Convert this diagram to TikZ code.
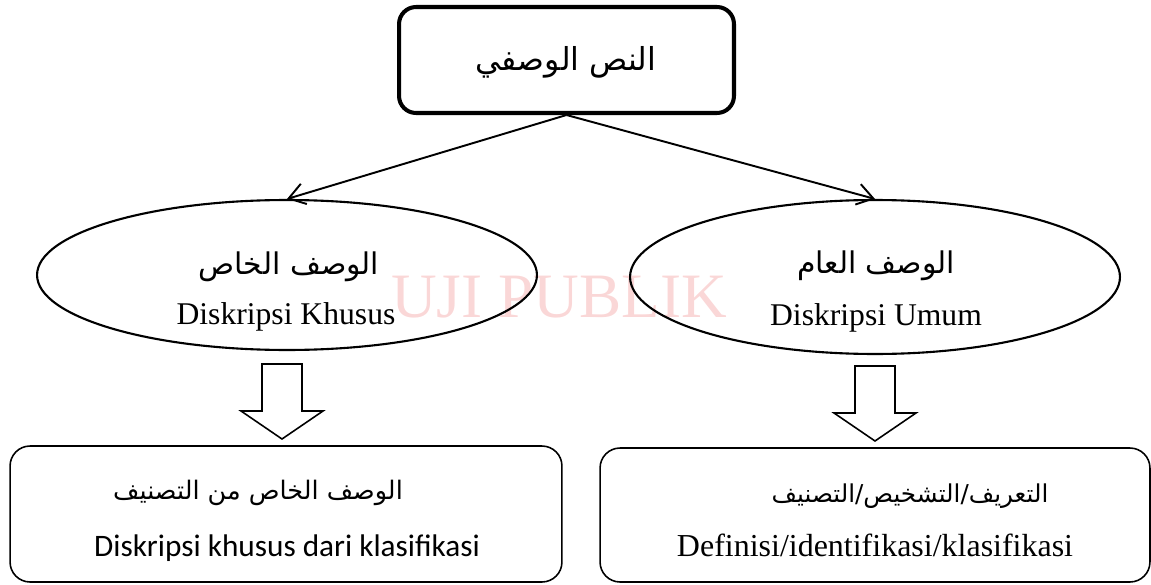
\documentclass[tikz,border=0pt]{standalone}
\usepackage{fontspec}
\setmainfont{Liberation Serif}
\newfontfamily\arabicfont[Script=Arabic]{DejaVu Sans}
\newfontfamily\carlito{Carlito}
\TeXXeTstate=1
\usetikzlibrary{arrows.meta,
                positioning,
                shapes.geometric}
\definecolor{stamppink}{RGB}{250,215,215}
\tikzset{mainbox/.style={draw, line width=2.3pt, rounded corners=0.34cm,
        minimum width=6.7cm, minimum height=2.12cm, inner sep=0pt},
    kind/.style={draw, ellipse, line width=1.2pt, inner sep=0pt},
    resultbox/.style={draw, line width=0.9pt, rounded corners=0.4cm, inner sep=0pt},
    artext/.style={font=\arabicfont\fontsize{17}{20}\selectfont, inner sep=0pt},
    lattext/.style={font=\fontsize{18}{20}\selectfont, inner sep=0pt, anchor=base},
    pointer/.style={line width=1.1pt, -{Straight Barb[length=9pt, width=12pt]}},
    hollow/.style={line width=0.9pt, line join=miter}}

\begin{document}
\begin{tikzpicture}[x=0.02cm, y=-0.02cm]
        \useasboundingbox (0,0) rectangle (1151,584);
        \node[text=stamppink, font=\fontsize{36}{40}\selectfont, inner sep=0pt, anchor=base]
            (stamp) at (559,317) {UJI PUBLIK};
        % top
        \node[mainbox] (desc) at (566.5,60) {};
        \node[artext, font=\arabicfont\fontsize{18}{22}\selectfont] (descar) at (566,62) {\beginR النص الوصفي\endR};
        % ellipses
        \node[kind, minimum width=10cm, minimum height=3cm] (khusus) at (287,275) {};
        \node[kind, minimum width=9.8cm, minimum height=3.08cm] (umum) at (875,277) {};
        \node[artext] (khususar) at (289,267) {\beginR الوصف الخاص\endR};
        \node[lattext] (khususlat) at (286,324) {Diskripsi Khusus};
        \node[artext] (umumar) at (876,266) {\beginR الوصف العام\endR};
        \node[lattext] (umumlat) at (876,325) {Diskripsi Umum};
        \draw[pointer] (desc.south) -- (khusus.north);
        \draw[pointer] (desc.south) -- (umum.north);
        % results
        \node[resultbox, minimum width=11.04cm, minimum height=2.72cm] (khususres) at (286,514) {};
        \node[resultbox, minimum width=11cm, minimum height=2.68cm] (umumres) at (875,515) {};
        \node[artext, font=\arabicfont\fontsize{14.5}{18}\selectfont] (khususresar) at (258,493) {\beginR الوصف الخاص من التصنيف\endR};
        \node[lattext, font=\carlito\fontsize{17.8}{20}\selectfont] (khususreslat) at (287,556) {Diskripsi khusus dari klasifikasi};
        \node[artext, font=\arabicfont\fontsize{14}{18}\selectfont] (umumresar) at (910,496) {\beginR التعريف/التشخيص/التصنيف\endR};
        \node[lattext, font=\fontsize{18.2}{20}\selectfont] (umumreslat) at (875,556) {Definisi/identifikasi/klasifikasi};
        % hollow arrows
        \coordinate (tipL) at (282,439);
        \coordinate (tipR) at (875,441);
        \foreach \t in {tipL, tipR}
            \draw[hollow] (\t) -- ++(41,-28) -- ++(-21,0) -- ++(0,-47) -- ++(-40,0)
                -- ++(0,47) -- ++(-21,0) -- cycle;
    \end{tikzpicture}
\end{document}
